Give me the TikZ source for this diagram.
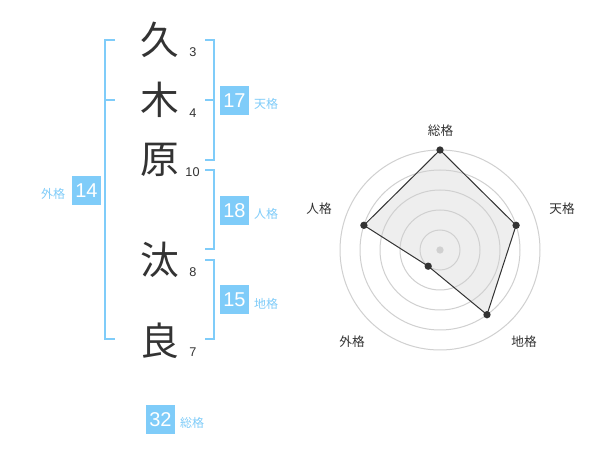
\documentclass[tikz,border=0pt]{standalone}
\usepackage{fontspec}
\setmainfont{Liberation Sans}
\newfontfamily\cjk{Noto Sans CJK JP}
\definecolor{lb}{RGB}{127,204,249}
\definecolor{dk}{RGB}{51,51,51}
\definecolor{ring}{RGB}{208,208,208}
\definecolor{polyfill}{RGB}{238,238,238}
\begin{document}
\begin{tikzpicture}[x=0.75pt,y=-0.75pt,
  kanji/.style={inner sep=0,text=dk,font=\cjk\fontsize{29}{29}\selectfont},
  strokes/.style={inner sep=0,text=dk,font=\fontsize{9.5}{10}\selectfont},
  numbox/.style={fill=lb,text=white,minimum width=21.75pt,minimum height=21.75pt,inner sep=0,font=\fontsize{15}{15}\selectfont},
  kakulabel/.style={inner sep=0,text=lb,font=\cjk\fontsize{9}{9}\selectfont},
  bracket/.style={draw=lb,line width=1.5pt},
  radarlabel/.style={inner sep=0,text=dk,font=\cjk\fontsize{9.5}{10}\selectfont},
  ringline/.style={draw=ring,line width=0.75pt},
  dot/.style={circle,fill=dk,inner sep=0,minimum size=5.5pt}]
\useasboundingbox (0,0) rectangle (600,470);
\fill[white] (0,0) rectangle (600,470);
% kanji
\node[kanji] (k1) at (160,40) {久};
\node[kanji] (k2) at (160,100) {木};
\node[kanji] (k3) at (160,160) {原};
\node[kanji] (k4) at (160,260) {汰};
\node[kanji] (k5) at (160,341) {良};
% stroke counts
\node[strokes] (s1) at (193,52.5) {3};
\node[strokes] (s2) at (193,113) {4};
\node[strokes] (s3) at (192.5,172.5) {10};
\node[strokes] (s4) at (193,272.5) {8};
\node[strokes] (s5) at (193,352.5) {7};
% brackets
\draw[bracket] (115,40) -- (105,40) -- (105,339) -- (115,339);
\draw[bracket] (105,100) -- (115,100);
\draw[bracket] (205,40) -- (214,40) -- (214,160) -- (205,160);
\draw[bracket] (205,100) -- (214,100);
\draw[bracket] (205,170) -- (214,170) -- (214,249) -- (205,249);
\draw[bracket] (205,260) -- (214,260) -- (214,339) -- (205,339);
% boxes
\node[numbox] (ten) at (234.5,100.5) {17};
\node[kakulabel] (tenl) at (266,104) {天格};
\node[numbox] (jin) at (234.5,210.5) {18};
\node[kakulabel] (jinl) at (266,213.5) {人格};
\node[numbox] (chi) at (234.5,300) {15};
\node[kakulabel] (chil) at (266,303.5) {地格};
\node[numbox] (gai) at (86.5,190.5) {14};
\node[kakulabel] (gail) at (53,194) {外格};
\node[numbox] (sou) at (160.5,419.5) {32};
\node[kakulabel] (soul) at (192,423) {総格};
% radar
\coordinate (c) at (440,250);
\coordinate (pS) at (440,150);
\coordinate (pT) at (516.1,225.3);
\coordinate (pC) at (487.0,314.7);
\coordinate (pG) at (428.2,266.2);
\coordinate (pJ) at (363.9,225.3);
\fill[polyfill] (pS) -- (pT) -- (pC) -- (pG) -- (pJ) -- cycle;
\foreach \r in {20,40,60,80,100} \draw[ringline] (c) circle[radius=\r];
\draw[dk,line width=0.75pt] (pS) -- (pT) -- (pC) -- (pG) -- (pJ) -- cycle;
\node[circle,fill=ring,inner sep=0,minimum size=5.5pt] (cd) at (c) {};
\node[dot] (dS) at (pS) {};
\node[dot] (dT) at (pT) {};
\node[dot] (dC) at (pC) {};
\node[dot] (dG) at (pG) {};
\node[dot] (dJ) at (pJ) {};
\node[radarlabel] (lS) at (440.5,130.5) {総格};
\node[radarlabel] (lT) at (562,209) {天格};
\node[radarlabel] (lC) at (524,342) {地格};
\node[radarlabel] (lG) at (352,342) {外格};
\node[radarlabel] (lJ) at (319,209) {人格};
\end{tikzpicture}
\end{document}
